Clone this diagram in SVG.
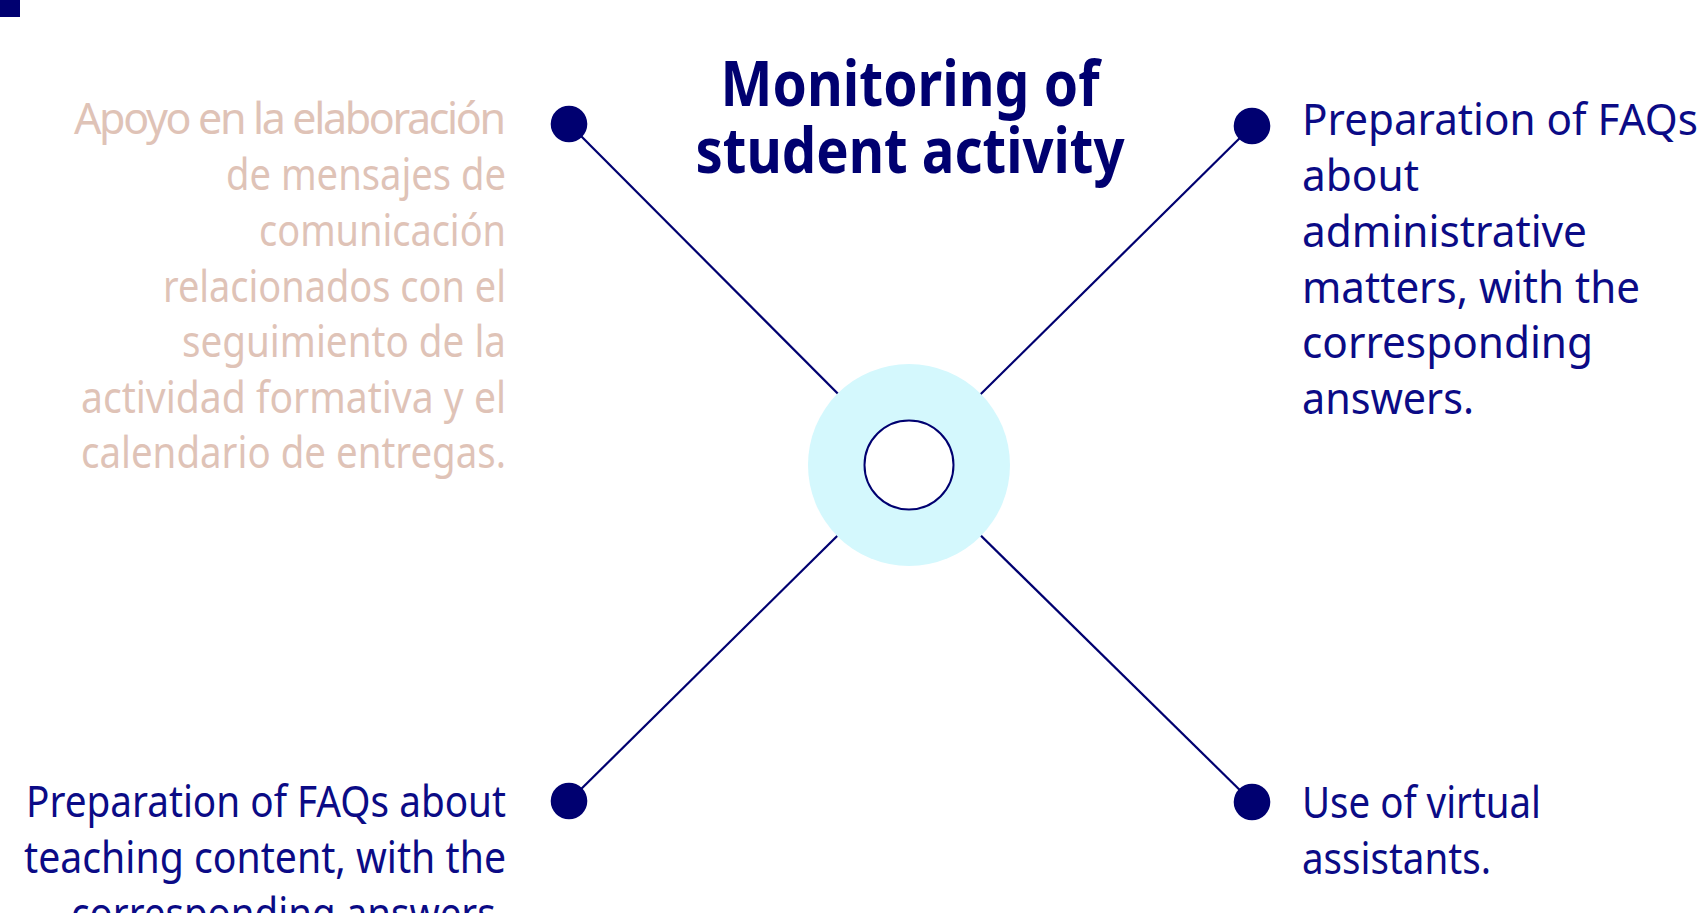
<svg xmlns="http://www.w3.org/2000/svg" width="1705" height="913" viewBox="0 0 1705 913">
<style>
.t{font-family:"Noto Sans","Open Sans","Liberation Sans",sans-serif;font-size:43px}
.pale{fill:#dfc3b7}
.navy{fill:#0b0b86}
.title{font-family:"Noto Sans","Open Sans","Liberation Sans",sans-serif;font-size:62px;font-weight:bold;fill:#000070}
.dot{fill:#000070}
.conn{stroke:#000070;stroke-width:2.2;fill:none}
</style>
<rect x="0" y="0" width="20" height="17" fill="#000070"/>
<g id="connectors">
<line class="conn" x1="569" y1="124" x2="909" y2="465"/>
<line class="conn" x1="1252" y1="126" x2="909" y2="465"/>
<line class="conn" x1="569" y1="801" x2="909" y2="465"/>
<line class="conn" x1="1252" y1="802" x2="909" y2="465"/>
</g>
<g id="center">
<circle cx="909" cy="465" r="101" fill="#d4f8fd"/>
<circle cx="909" cy="465" r="44.5" fill="#ffffff" stroke="#000070" stroke-width="2"/>
</g>
<g id="title">
<text class="title" x="910" y="106" text-anchor="middle" textLength="379" lengthAdjust="spacingAndGlyphs">Monitoring of</text>
<text class="title" x="910" y="173" text-anchor="middle" textLength="429" lengthAdjust="spacingAndGlyphs">student activity</text>
</g>
<g id="node-top-left">
<circle class="dot" cx="569" cy="124" r="18.3"/>
<text class="t pale" text-anchor="end" lengthAdjust="spacingAndGlyphs">
<tspan x="506" y="134" textLength="432">Apoyo en la elaboración</tspan>
</text>
<text class="t pale" x="506" y="190" text-anchor="end" textLength="280" lengthAdjust="spacingAndGlyphs">de mensajes de</text>
<text class="t pale" x="506" y="246" text-anchor="end" textLength="247" lengthAdjust="spacingAndGlyphs">comunicación</text>
<text class="t pale" x="506" y="302" text-anchor="end" textLength="343" lengthAdjust="spacingAndGlyphs">relacionados con el</text>
<text class="t pale" x="506" y="357" text-anchor="end" textLength="324" lengthAdjust="spacingAndGlyphs">seguimiento de la</text>
<text class="t pale" x="506" y="413" text-anchor="end" textLength="425" lengthAdjust="spacingAndGlyphs">actividad formativa y el</text>
<text class="t pale" x="506" y="468" text-anchor="end" textLength="425" lengthAdjust="spacingAndGlyphs">calendario de entregas.</text>
</g>
<g id="node-top-right">
<circle class="dot" cx="1252" cy="126" r="18.3"/>
<text class="t navy" x="1302" y="135" textLength="396" lengthAdjust="spacingAndGlyphs">Preparation of FAQs</text>
<text class="t navy" x="1302" y="191" textLength="117" lengthAdjust="spacingAndGlyphs">about</text>
<text class="t navy" x="1302" y="247" textLength="285" lengthAdjust="spacingAndGlyphs">administrative</text>
<text class="t navy" x="1302" y="303" textLength="338" lengthAdjust="spacingAndGlyphs">matters, with the</text>
<text class="t navy" x="1302" y="358" textLength="291" lengthAdjust="spacingAndGlyphs">corresponding</text>
<text class="t navy" x="1302" y="414" textLength="172" lengthAdjust="spacingAndGlyphs">answers.</text>
</g>
<g id="node-bottom-left">
<circle class="dot" cx="569" cy="801" r="18.3"/>
<text class="t navy" x="506" y="817" text-anchor="end" textLength="480" lengthAdjust="spacingAndGlyphs">Preparation of FAQs about</text>
<text class="t navy" x="506" y="873" text-anchor="end" textLength="482" lengthAdjust="spacingAndGlyphs">teaching content, with the</text>
<text class="t navy" x="506" y="929" text-anchor="end" textLength="435" lengthAdjust="spacingAndGlyphs">corresponding answers.</text>
</g>
<g id="node-bottom-right">
<circle class="dot" cx="1252" cy="802" r="18.3"/>
<text class="t navy" x="1302" y="818" textLength="239" lengthAdjust="spacingAndGlyphs">Use of virtual</text>
<text class="t navy" x="1302" y="874" textLength="189" lengthAdjust="spacingAndGlyphs">assistants.</text>
</g>
</svg>
